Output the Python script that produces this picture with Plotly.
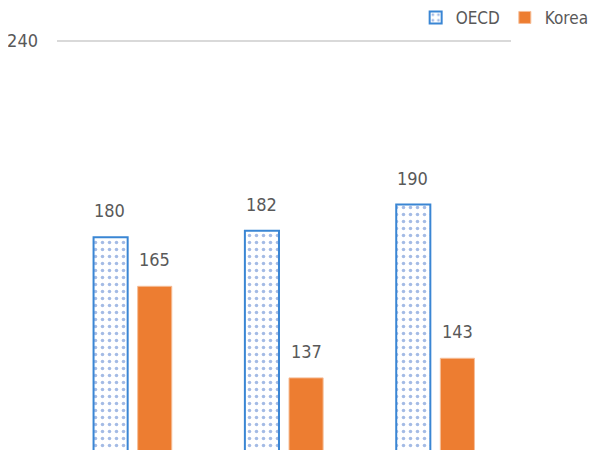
import plotly.graph_objects as go

categories = ["Group 1", "Group 2", "Group 3"]
oecd = [180, 182, 190]
korea = [165, 137, 143]
y_ticks = [240]

FONT = "DejaVu Sans Condensed, Liberation Sans, sans-serif"
TXT = "#595959"
BLUE = "#3A86D4"
ORANGE = "#ED7D31"

fig = go.Figure()
fig.add_trace(go.Bar(
    name="OECD", x=categories, y=oecd,
    marker=dict(color="white", line=dict(color=BLUE, width=2),
                pattern=dict(shape=".", fgcolor="#4A78CC", bgcolor="white", size=7, solidity=0.2)),
))
fig.add_trace(go.Bar(
    name="Korea", x=categories, y=korea,
    marker=dict(color=ORANGE, line=dict(color="#F6BE98", width=1)),
))

# data labels above bars
for vals, shift in ((oecd, -23), (korea, 22)):
    for c, v in zip(categories, vals):
        fig.add_annotation(x=c, y=v, text=str(v), showarrow=False,
                           xshift=shift, yshift=14, yanchor="bottom",
                           font=dict(family=FONT, size=18, color=TXT))

fig.update_layout(
    width=597, height=450,
    margin=dict(l=49, r=94, t=0, b=0, autoexpand=False),
    paper_bgcolor="white", plot_bgcolor="white",
    barmode="group", bargap=0.417, bargroupgap=0.227,
    font=dict(family=FONT, color=TXT, size=18),
    showlegend=True,
    legend=dict(orientation="h", xref="container", yref="container",
                x=0.981, xanchor="right", y=0.978, yanchor="middle",
                font=dict(family=FONT, size=17, color=TXT),
                itemwidth=30, tracegroupgap=0, bgcolor="rgba(0,0,0,0)"),
    xaxis=dict(showticklabels=False, showline=False, showgrid=False, zeroline=False),
    yaxis=dict(range=[112.5, 250.1], tickvals=y_ticks, showgrid=True, automargin=False,
               gridcolor="#D9D9D9", gridwidth=1.5, zeroline=False, showline=False,
               ticklabelstandoff=18, tickfont=dict(family=FONT, size=18, color=TXT)),
)

fig.write_html("out.html")
